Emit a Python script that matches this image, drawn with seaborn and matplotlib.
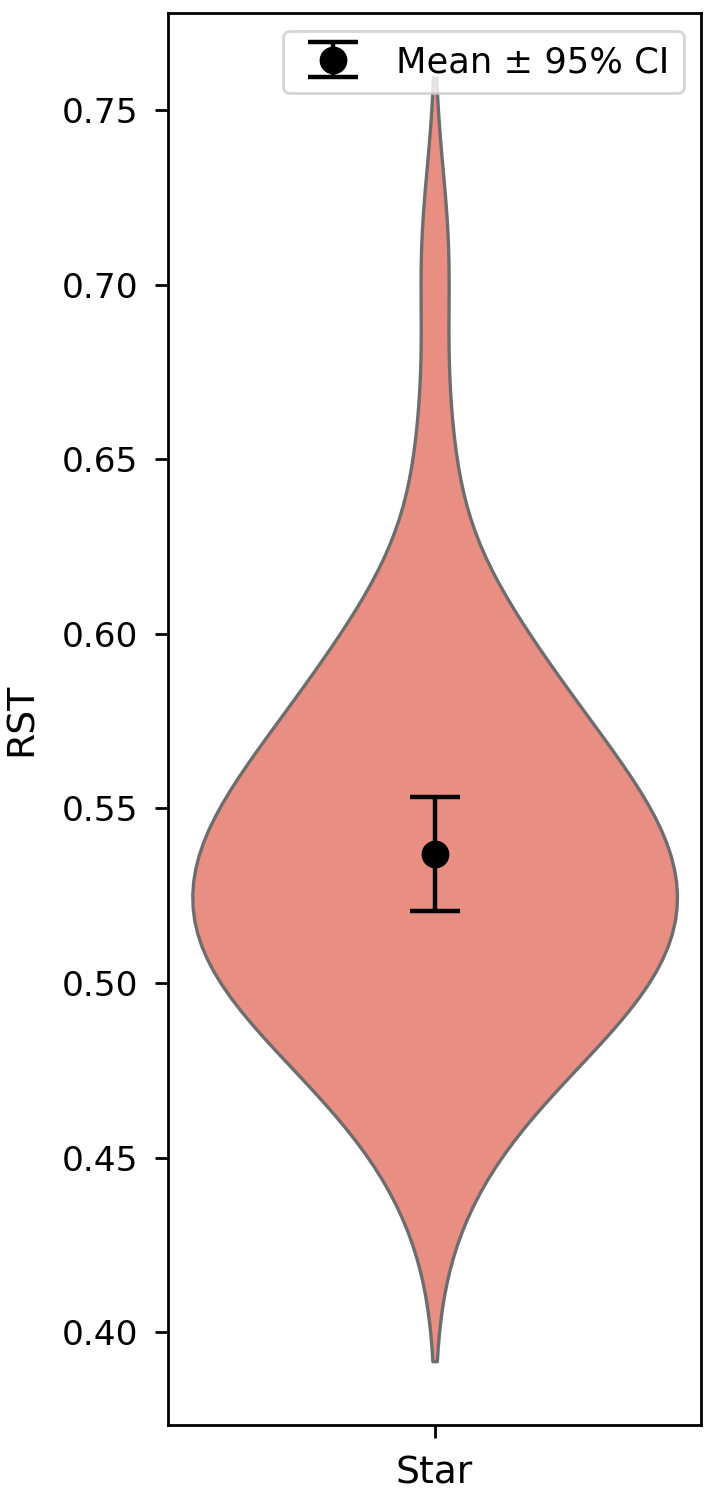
import numpy as np
import pandas as pd
import matplotlib
matplotlib.use("Agg")
import matplotlib.pyplot as plt
import seaborn as sns

# RST values for the single group
group_name = "Star"
rst_star = [0.442, 0.460, 0.469, 0.476, 0.481, 0.486, 0.490, 0.493, 0.497, 0.500,
            0.503, 0.506, 0.509, 0.511, 0.514, 0.517, 0.519, 0.524, 0.527, 0.530,
            0.533, 0.536, 0.539, 0.541, 0.544, 0.547, 0.550, 0.554, 0.558, 0.562,
            0.566, 0.571, 0.576, 0.582, 0.589, 0.596, 0.604, 0.612, 0.653, 0.709]

df = pd.DataFrame({"Group": [group_name] * len(rst_star), "RST": rst_star})

plt.rcParams['font.family'] = ['DejaVu Sans']
plt.rcParams['axes.linewidth'] = 1.0

fig, ax = plt.subplots(figsize=(3.545, 7.455), dpi=200)
fig.subplots_adjust(left=0.237, right=0.989, top=0.991, bottom=0.044)

sns.violinplot(data=df, x="Group", y="RST", color="salmon", inner=None,
               width=0.9, linewidth=1.2, ax=ax)

# mean and 95% CI
vals = np.array(rst_star)
mean = vals.mean()
ci = 1.96 * vals.std(ddof=1) / np.sqrt(len(vals))
ax.errorbar([0], [mean], yerr=[ci], fmt='o', color='black', markersize=9,
            capsize=9, elinewidth=1.6, capthick=1.6, zorder=3,
            label="Mean \u00b1 95% CI")

ax.set_xlabel("")
ax.set_ylabel("RST", fontsize=13.6, labelpad=8)
ax.tick_params(axis='both', length=4.7, width=1.0, pad=6)
ax.tick_params(axis='y', labelsize=12.4)
ax.tick_params(axis='x', labelsize=13.6)
ax.legend(loc='upper right', fontsize=12.7)

plt.savefig("out.png", dpi=200)
